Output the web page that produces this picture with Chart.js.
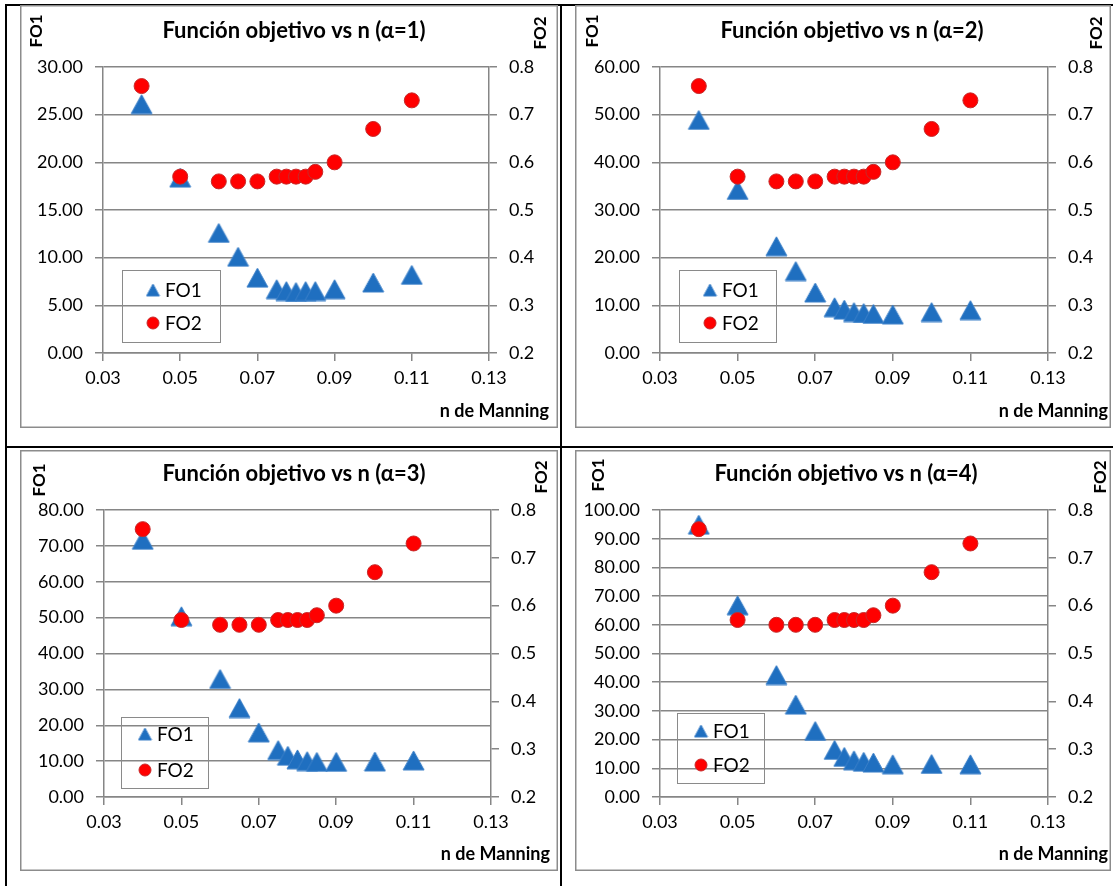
<!DOCTYPE html>
<html><head><meta charset="utf-8">
<script src="https://cdn.jsdelivr.net/npm/chart.js@4.4.1/dist/chart.umd.min.js"></script>
<style>
html,body{margin:0;padding:0;background:#fff;}
body{width:1113px;height:886px;position:relative;overflow:hidden;}
.bl{position:absolute;background:#000;}
canvas{position:absolute;}
</style></head><body>
<div class="bl" style="left:5px;top:4px;width:1108px;height:2px"></div>
<div class="bl" style="left:5px;top:4px;width:2px;height:882px"></div>
<div class="bl" style="left:560px;top:4px;width:2px;height:882px"></div>
<div class="bl" style="left:5px;top:446px;width:1108px;height:2px"></div>
<canvas id="c1" width="538" height="423" style="left:20px;top:5px"></canvas>
<canvas id="c2" width="536" height="423" style="left:575px;top:5px"></canvas>
<canvas id="c3" width="538" height="421" style="left:20px;top:450px"></canvas>
<canvas id="c4" width="536" height="421" style="left:575px;top:450px"></canvas>
<script>
// ---------- data ----------
const nManning = [0.04, 0.05, 0.06, 0.065, 0.07, 0.075, 0.0775, 0.08, 0.0825, 0.085, 0.09, 0.10, 0.11];
const fo2Values = [0.76, 0.57, 0.56, 0.56, 0.56, 0.57, 0.57, 0.57, 0.57, 0.58, 0.60, 0.67, 0.73];
const fo1Alpha1 = [26.1, 18.4, 12.6, 10.1, 7.9, 6.7, 6.5, 6.4, 6.5, 6.5, 6.7, 7.4, 8.2];
const fo1Alpha2 = [48.9, 34.2, 22.4, 17.2, 12.7, 9.6, 9.1, 8.6, 8.4, 8.2, 8.1, 8.6, 9.0];
const fo1Alpha3 = [71.7, 50.4, 32.9, 24.8, 18.0, 13.1, 11.5, 10.5, 10.0, 9.8, 9.8, 9.9, 10.2];
const fo1Alpha4 = [94.9, 66.8, 42.5, 32.2, 23.0, 16.4, 14.0, 12.8, 12.3, 12.0, 11.4, 11.5, 11.4];
const xTicks = [0.03, 0.05, 0.07, 0.09, 0.11, 0.13];
const fo1Ticks1 = [0, 5, 10, 15, 20, 25, 30];
const fo1Ticks2 = [0, 10, 20, 30, 40, 50, 60];
const fo1Ticks3 = [0, 10, 20, 30, 40, 50, 60, 70, 80];
const fo1Ticks4 = [0, 10, 20, 30, 40, 50, 60, 70, 80, 90, 100];
const fo2Ticks = [0.2, 0.3, 0.4, 0.5, 0.6, 0.7, 0.8];
const chartTitles = ['Función objetivo vs n (α=1)', 'Función objetivo vs n (α=2)', 'Función objetivo vs n (α=3)', 'Función objetivo vs n (α=4)'];
const seriesNames = ['FO1', 'FO2'];
const xAxisTitle = 'n de Manning';

// ---------- layout / style ----------
const FONT = 'Lato, Carlito, "Liberation Sans", sans-serif';
const GRID = '#868686';
const layouts = [
  {w:538,h:423,plot:{l:83,r:469,t:62,b:348},title:{x:274,y:26},fo1:{x:17,y:26},fo2:{x:521,y:28},xt:{x:529,y:406},
   leg:{x:102,y:265,w:98,h:72,mx:31,tx:43,y1:20,y2:53}},
  {w:536,h:423,plot:{l:85,r:473,t:62,b:348},title:{x:277,y:26},fo1:{x:18,y:26},fo2:{x:522,y:28},xt:{x:533,y:406},
   leg:{x:104,y:265,w:97,h:72,mx:31,tx:43,y1:20,y2:53}},
  {w:538,h:421,plot:{l:84,r:471,t:60,b:347},title:{x:274,y:24},fo1:{x:20,y:30},fo2:{x:522,y:27},xt:{x:530,y:404},
   leg:{x:101,y:267,w:87,h:71,mx:24,tx:36,y1:17,y2:53}},
  {w:536,h:421,plot:{l:85,r:473,t:60,b:347},title:{x:271,y:24},fo1:{x:24,y:25},fo2:{x:526,y:27},xt:{x:533,y:404},
   leg:{x:102,y:263,w:87,h:70,mx:24,tx:36,y1:18,y2:52}}
];
const fo1Series = [fo1Alpha1, fo1Alpha2, fo1Alpha3, fo1Alpha4];
const fo1TickSets = [fo1Ticks1, fo1Ticks2, fo1Ticks3, fo1Ticks4];

function triImg(w, h, fill, stroke) {
  const c = document.createElement('canvas');
  c.width = w + 2; c.height = h + 2;
  const g = c.getContext('2d');
  g.beginPath();
  g.moveTo(1 + w / 2, 1); g.lineTo(1 + w, 1 + h); g.lineTo(1, 1 + h); g.closePath();
  g.fillStyle = fill; g.fill();
  g.strokeStyle = stroke; g.lineWidth = 1; g.stroke();
  return c;
}
const TRI_FILL = '#1f6fc0', TRI_EDGE = '#3c80c8';
const triBig = triImg(21, 19, TRI_FILL, TRI_EDGE);
const triSmall = triImg(13, 12, TRI_FILL, TRI_EDGE);
const RED = '#ff0000', RED_EDGE = '#c62a2a';

const decor = {
  id: 'decor',
  beforeDraw(chart) {
    const c = chart.ctx; c.save(); c.fillStyle = '#fff'; c.fillRect(0, 0, chart.width, chart.height); c.restore();
  },
  afterDraw(chart) {
    const L = chart.options.plugins.decor.L;
    const idx = chart.options.plugins.decor.idx;
    const c = chart.ctx;
    c.save();
    // outer chart border
    c.strokeStyle = '#8c8c8c'; c.lineWidth = 1.5;
    c.strokeRect(0.75, 0.75, chart.width - 1.5, chart.height - 1.5);
    c.fillStyle = '#000';
    // title
    c.font = 'bold 22px ' + FONT; c.textAlign = 'center'; c.textBaseline = 'middle';
    c.fillText(chartTitles[idx], L.title.x, L.title.y);
    // axis titles (rotated)
    c.font = 'bold 17px ' + FONT;
    c.save(); c.translate(L.fo1.x, L.fo1.y); c.rotate(-Math.PI / 2); c.fillText(seriesNames[0], 0, 0); c.restore();
    c.save(); c.translate(L.fo2.x, L.fo2.y); c.rotate(-Math.PI / 2); c.fillText(seriesNames[1], 0, 0); c.restore();
    c.font = 'bold 18px ' + FONT; c.textAlign = 'right';
    c.fillText(xAxisTitle, L.xt.x, L.xt.y);
    // legend
    const g = L.leg;
    c.strokeStyle = '#8a8a8a'; c.lineWidth = 1;
    c.strokeRect(g.x + 0.5, g.y + 0.5, g.w, g.h);
    Chart.helpers.drawPoint(c, {pointStyle: triSmall, radius: 6, rotation: 0}, g.x + g.mx, g.y + g.y1);
    c.fillStyle = RED; c.strokeStyle = RED_EDGE; c.lineWidth = 1;
    Chart.helpers.drawPoint(c, {pointStyle: 'circle', radius: 6, rotation: 0, borderWidth: 1}, g.x + g.mx, g.y + g.y2);
    c.fillStyle = '#000'; c.font = '19px ' + FONT; c.textAlign = 'left'; c.textBaseline = 'middle';
    c.fillText(seriesNames[0], g.x + g.tx, g.y + g.y1 + 1);
    c.fillText(seriesNames[1], g.x + g.tx, g.y + g.y2 + 1);
    c.restore();
  }
};

function tickFont() { return {family: FONT, size: 18}; }

function makeChart(i) {
  const L = layouts[i];
  const ticksY = fo1TickSets[i];
  new Chart(document.getElementById('c' + (i + 1)), {
    type: 'scatter',
    data: {
      datasets: [
        {label: seriesNames[0], data: nManning.map((x, k) => ({x: x, y: fo1Series[i][k]})), yAxisID: 'y',
         pointStyle: triBig, pointRadius: 10, order: 2},
        {label: seriesNames[1], data: nManning.map((x, k) => ({x: x, y: fo2Values[k]})), yAxisID: 'y2',
         pointStyle: 'circle', pointRadius: 7.5, backgroundColor: RED, borderColor: RED_EDGE, borderWidth: 1, order: 1}
      ]
    },
    options: {
      responsive: false, animation: false, devicePixelRatio: 1, events: [],
      layout: {padding: {top: L.plot.t, left: 0, right: 0, bottom: 0}},
      plugins: {legend: {display: false}, title: {display: false}, tooltip: {enabled: false}, decor: {L: L, idx: i}},
      scales: {
        x: {
          type: 'linear', position: 'bottom', min: xTicks[0], max: xTicks[xTicks.length - 1],
          afterBuildTicks: s => { s.ticks = xTicks.map(v => ({value: v})); },
          ticks: {callback: v => Number(v).toFixed(2), font: tickFont(), color: '#000', padding: 6, maxRotation: 0, autoSkip: false},
          grid: {drawOnChartArea: false, drawTicks: true, tickLength: 8, color: GRID, lineWidth: 1.5},
          border: {display: true, color: GRID, width: 1.5},
          afterFit: s => { s.height = L.h - L.plot.b; }
        },
        y: {
          type: 'linear', position: 'left', min: ticksY[0], max: ticksY[ticksY.length - 1],
          afterBuildTicks: s => { s.ticks = ticksY.map(v => ({value: v})); },
          ticks: {callback: v => Number(v).toFixed(2), font: tickFont(), color: '#000', padding: 12, autoSkip: false},
          grid: {drawOnChartArea: true, drawTicks: true, tickLength: 8, color: GRID, lineWidth: 1.5},
          border: {display: true, color: GRID, width: 1.5},
          afterFit: s => { s.width = L.plot.l; }
        },
        y2: {
          type: 'linear', position: 'right', min: fo2Ticks[0], max: fo2Ticks[fo2Ticks.length - 1],
          afterBuildTicks: s => { s.ticks = fo2Ticks.map(v => ({value: v})); },
          ticks: {callback: v => Number(v).toFixed(1), font: tickFont(), color: '#000', padding: 12, autoSkip: false},
          grid: {drawOnChartArea: false, drawTicks: true, tickLength: 8, color: GRID, lineWidth: 1.5},
          border: {display: true, color: GRID, width: 1.5},
          afterFit: s => { s.width = L.w - L.plot.r; }
        }
      }
    },
    plugins: [decor]
  });
}
[0, 1, 2, 3].forEach(makeChart);
</script>
</body></html>
